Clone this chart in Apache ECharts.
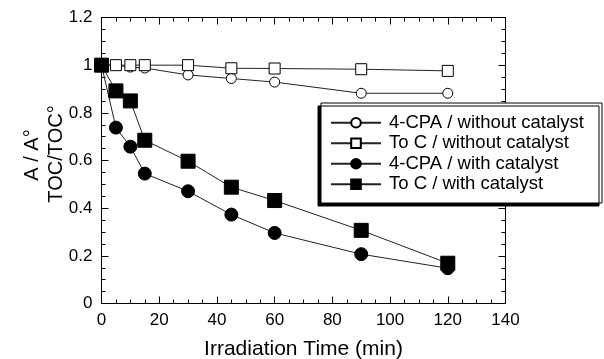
<!DOCTYPE html>
<html><head><meta charset="utf-8">
<script src="https://cdn.jsdelivr.net/npm/echarts@6/dist/echarts.min.js"></script>
<style>html,body{margin:0;padding:0;background:#fff}#c{width:604px;height:359px}</style>
</head><body><div id="c"></div>
<script>
const times = [0, 5, 10, 15, 30, 45, 60, 90, 120];
const cpaWithout = [1.0, 1.0, 0.992, 0.988, 0.959, 0.944, 0.929, 0.882, 0.882];
const tocWithout = [1.0, 1.0, 1.0, 1.0, 1.0, 0.987, 0.986, 0.983, 0.976];
const cpaWith = [1.0, 0.738, 0.658, 0.545, 0.471, 0.373, 0.296, 0.207, 0.148];
const tocWith = [1.0, 0.892, 0.850, 0.685, 0.597, 0.488, 0.432, 0.307, 0.169];
const seriesNames = ['4-CPA / without catalyst', 'To C / without catalyst', '4-CPA / with catalyst', 'To C / with catalyst'];
const xTicks = [0, 20, 40, 60, 80, 100, 120, 140];
const yTicks = [0, 0.2, 0.4, 0.6, 0.8, 1, 1.2];
const xTitle = 'Irradiation Time (min)';
const yTitle1 = 'A / A°';
const yTitle2 = 'TOC/TOC°';

const font = 'Liberation Sans, Arial, sans-serif';
function pairs(v){ return times.map((t,i)=>[t, v[i]]); }
function mk(name, data, symbol, size, filled){
  return {
    name, type:'line', data: pairs(data), symbol, symbolSize:size, showSymbol:true,
    lineStyle:{color:'#222', width:1},
    itemStyle:{color: filled ? '#000' : '#fff', borderColor:'#000', borderWidth:1},
    emphasis:{disabled:true}, z: filled ? 4 : 3
  };
}
function axis(extra){
  return Object.assign({
    type:'value', min:0,
    axisLine:{show:true, onZero:false, lineStyle:{color:'#000', width:1}},
    axisTick:{show:true, inside:true, length:7, lineStyle:{color:'#000', width:1}},
    minorTick:{show:true, splitNumber:4, length:4, lineStyle:{color:'#000', width:1}},
    splitLine:{show:false}, minorSplitLine:{show:false}
  }, extra);
}
const chart = echarts.init(document.getElementById('c'));
chart.setOption({
  animation:false,
  grid:{left:101.5, right:98.5, top:17.5, bottom:55.5, containLabel:false, outerBoundsMode:'none'},
  xAxis:[
    axis({max:xTicks[xTicks.length-1], interval:20, position:'bottom',
      axisLabel:{color:'#000', fontSize:17, fontFamily:font, margin:8},
      name:xTitle, nameLocation:'middle', nameGap:35,
      nameTextStyle:{color:'#000', fontSize:21, fontFamily:font}}),
    axis({max:xTicks[xTicks.length-1], interval:20, position:'top', axisLabel:{show:false}})
  ],
  yAxis:[
    axis({max:yTicks[yTicks.length-1], interval:0.2, position:'left',
      axisLabel:{color:'#000', fontSize:17, fontFamily:font, margin:9}}),
    axis({max:yTicks[yTicks.length-1], interval:0.2, position:'right', axisLabel:{show:false}})
  ],
  graphic:[
    {type:'text', x:32, y:155, rotation:Math.PI/2, style:{text:yTitle1, font:'20px ' + font, fill:'#000', align:'center', verticalAlign:'middle'}},
    {type:'text', x:56, y:154, rotation:Math.PI/2, style:{text:yTitle2, font:'20px ' + font, fill:'#000', align:'center', verticalAlign:'middle'}}
  ],
  legend:{
    orient:'vertical', left:321, top:103, data:seriesNames,
    backgroundColor:'#fff', borderColor:'#000', borderWidth:1,
    shadowColor:'#000', shadowBlur:0, shadowOffsetX:-3, shadowOffsetY:3,
    padding:[10, 18, 9, 9], itemGap:1, itemWidth:50, itemHeight:12,
    textStyle:{color:'#000', fontSize:18.5, fontFamily:font, lineHeight:19.5, padding:[0,0,0,3]}, selectedMode:false
  },
  series:[
    mk(seriesNames[0], cpaWithout, 'circle', 10, false),
    mk(seriesNames[1], tocWithout, 'rect', 11, false),
    mk(seriesNames[2], cpaWith, 'circle', 13, true),
    mk(seriesNames[3], tocWith, 'rect', 14, true)
  ]
});
</script></body></html>
